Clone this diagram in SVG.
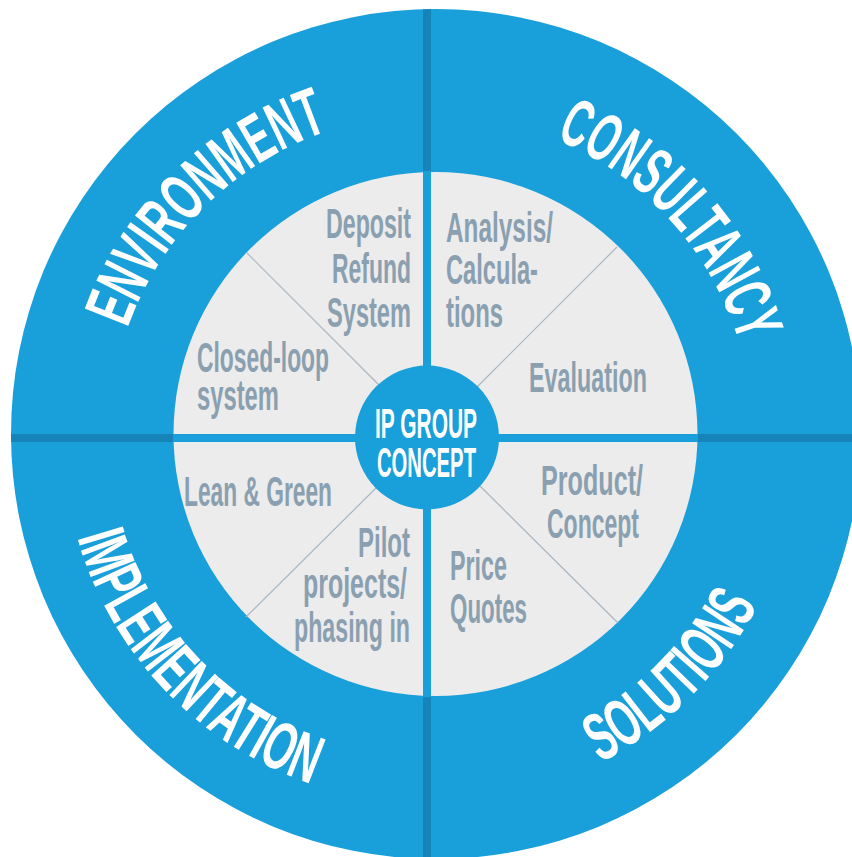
<svg xmlns="http://www.w3.org/2000/svg" width="852" height="857" viewBox="0 0 852 857">
<style>
.ring{fill:#199fd9}
.dark{fill:#1684b8}
.inner{fill:#ececec}
.lbl{font-family:"Liberation Sans Narrow","Liberation Sans",Arial,sans-serif;font-weight:bold;font-size:42px;fill:#8aa0b0}
.ctr{font-family:"Liberation Sans Narrow","Liberation Sans",Arial,sans-serif;font-weight:bold;font-size:42px;fill:#ffffff}
.big{font-family:"Liberation Sans Narrow","Liberation Sans",Arial,sans-serif;font-weight:bold;font-size:68px;fill:#ffffff}
.diag{stroke:#a9b6c0;stroke-width:1.2;fill:none}
</style>
<defs>
<clipPath id="outerClip"><circle cx="436" cy="434" r="425"/></clipPath>
<path id="arcEnv" d="M109.0,433.2 A322,322 0 0 1 433.8,114.0"/>
<path id="arcCon" d="M447.9,114.4 A322,322 0 0 1 752.6,452.9"/>
<path id="arcImp" d="M63.1,426.4 A368,368 0 0 0 421.4,803.9"/>
<path id="arcSol" d="M431,804 A368,368 0 0 0 799,436"/>
</defs>
<rect width="852" height="857" fill="#ffffff"/>
<g id="outer-ring">
<circle class="ring" cx="436" cy="434" r="425"/>
<g clip-path="url(#outerClip)">
<rect class="dark" x="423" y="0" width="8" height="857"/>
<rect class="dark" x="0" y="434" width="852" height="8"/>
</g>
</g>
<g id="inner-disc">
<circle class="inner" cx="435.5" cy="434" r="262"/>
</g>
<g id="connectors">
<rect class="ring" x="423" y="171" width="8" height="526"/>
<rect class="ring" x="173" y="434" width="525" height="8"/>
<line class="diag" x1="247" y1="253" x2="380" y2="386"/>
<line class="diag" x1="617" y1="247" x2="476" y2="388"/>
<line class="diag" x1="246" y1="617" x2="376" y2="488"/>
<line class="diag" x1="480" y1="486" x2="618" y2="623"/>
</g>
<g id="node-center">
<circle class="ring" cx="427" cy="437.5" r="72"/>
<text class="ctr" x="375" y="438" textLength="102" lengthAdjust="spacingAndGlyphs">IP GROUP</text>
<text class="ctr" x="377" y="477" textLength="99" lengthAdjust="spacingAndGlyphs">CONCEPT</text>
</g>
<g id="node-environment">
<text class="big"><textPath href="#arcEnv" startOffset="50%" text-anchor="middle" textLength="292" lengthAdjust="spacingAndGlyphs">ENVIRONMENT</textPath></text>
</g>
<g id="node-consultancy">
<text class="big"><textPath href="#arcCon" startOffset="50%" text-anchor="middle" textLength="284" lengthAdjust="spacingAndGlyphs">CONSULTANCY</textPath></text>
</g>
<g id="node-implementation">
<text class="big"><textPath href="#arcImp" startOffset="50%" text-anchor="middle" textLength="353" lengthAdjust="spacingAndGlyphs">IMPLEMENTATION</textPath></text>
</g>
<g id="node-solutions">
<text class="big"><textPath href="#arcSol" startOffset="50%" text-anchor="middle" textLength="226" lengthAdjust="spacingAndGlyphs">SOLUTIONS</textPath></text>
</g>
<g id="node-deposit">
<text class="lbl" x="326" y="238" textLength="85" lengthAdjust="spacingAndGlyphs">Deposit</text>
<text class="lbl" x="332" y="283" textLength="79" lengthAdjust="spacingAndGlyphs">Refund</text>
<text class="lbl" x="327" y="327" textLength="84" lengthAdjust="spacingAndGlyphs">System</text>
</g>
<g id="node-analysis">
<text class="lbl" x="446" y="242" textLength="107" lengthAdjust="spacingAndGlyphs">Analysis/</text>
<text class="lbl" x="446" y="284" textLength="92" lengthAdjust="spacingAndGlyphs">Calcula-</text>
<text class="lbl" x="446" y="327" textLength="57" lengthAdjust="spacingAndGlyphs">tions</text>
</g>
<g id="node-closed-loop">
<text class="lbl" x="197" y="372" textLength="132" lengthAdjust="spacingAndGlyphs">Closed-loop</text>
<text class="lbl" x="197" y="410" textLength="82" lengthAdjust="spacingAndGlyphs">system</text>
</g>
<g id="node-evaluation">
<text class="lbl" x="529" y="392" textLength="118" lengthAdjust="spacingAndGlyphs">Evaluation</text>
</g>
<g id="node-lean-green">
<text class="lbl" x="184" y="506" textLength="148" lengthAdjust="spacingAndGlyphs">Lean &amp; Green</text>
</g>
<g id="node-product">
<text class="lbl" x="541" y="495" textLength="102" lengthAdjust="spacingAndGlyphs">Product/</text>
<text class="lbl" x="547" y="538" textLength="92" lengthAdjust="spacingAndGlyphs">Concept</text>
</g>
<g id="node-pilot">
<text class="lbl" x="358" y="557" textLength="52" lengthAdjust="spacingAndGlyphs">Pilot</text>
<text class="lbl" x="303" y="598" textLength="104" lengthAdjust="spacingAndGlyphs">projects/</text>
<text class="lbl" x="294" y="642" textLength="116" lengthAdjust="spacingAndGlyphs">phasing in</text>
</g>
<g id="node-price">
<text class="lbl" x="450" y="580" textLength="57" lengthAdjust="spacingAndGlyphs">Price</text>
<text class="lbl" x="450" y="623" textLength="77" lengthAdjust="spacingAndGlyphs">Quotes</text>
</g>
</svg>
